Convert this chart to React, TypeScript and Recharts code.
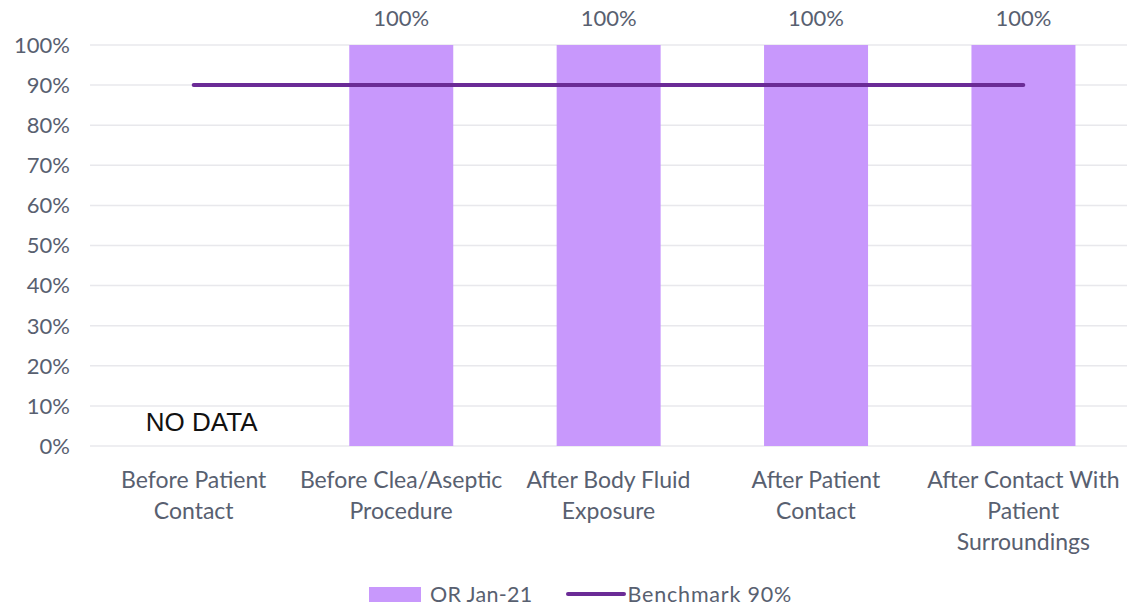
import React from 'react';
import { ComposedChart, Bar, Line, XAxis, YAxis, CartesianGrid, LabelList, ReferenceDot, Label } from 'recharts';

const categories = [
  'Before Patient\nContact',
  'Before Clea/Aseptic\nProcedure',
  'After Body Fluid\nExposure',
  'After Patient\nContact',
  'After Contact With\nPatient\nSurroundings',
];
const orJan21: (number | null)[] = [null, 100, 100, 100, 100];
const benchmark = [90, 90, 90, 90, 90];
const yTicks = [0, 10, 20, 30, 40, 50, 60, 70, 80, 90, 100];

const data = categories.map((c, i) => ({ name: c, or: orJan21[i], bench: benchmark[i] }));

const FONT = 'Lato, "Open Sans", sans-serif';
const TEXT = '#586070';
const BAR = '#c898fc';
const LINE = '#6b2b96';

const XTick = (props: any) => {
  const { x, y, payload } = props;
  const lines = String(payload.value).split('\n');
  return (
    <g transform={`translate(${x},${y})`}>
      {lines.map((l: string, i: number) => (
        <text key={i} x={0} y={34 + i * 31} textAnchor="middle" fill={TEXT} fontSize={23} fontFamily={FONT}>
          {l}
        </text>
      ))}
    </g>
  );
};

const LegendBox = () => (
  <div style={{ position: 'absolute', left: 369, top: 583, height: 22, lineHeight: '22px', display: 'flex', alignItems: 'center', fontFamily: FONT, fontSize: 21.5, color: TEXT, whiteSpace: 'nowrap' }}>
    <span style={{ display: 'inline-block', width: 52, height: 15, background: BAR, marginRight: 9 }} />
    <span style={{ letterSpacing: 0.3 }}>OR Jan-21</span>
    <span style={{ display: 'inline-block', width: 60, height: 4, borderRadius: 2, background: LINE, marginLeft: 33, marginRight: 2 }} />
    <span style={{ letterSpacing: 0.8 }}>Benchmark 90%</span>
  </div>
);

export default function App() {
  return (
    <div style={{ position: 'absolute', left: 0, top: 0, width: 1127, height: 606, background: '#fff', overflow: 'hidden' }}>
      <ComposedChart width={1127} height={606} data={data} margin={{ top: 45, right: 0, bottom: 50, left: 0 }} barCategoryGap="25%">
        <CartesianGrid horizontal vertical={false} stroke="#e8e8ec" strokeWidth={1.5} />
        <XAxis dataKey="name" axisLine={false} tickLine={false} tick={<XTick />} interval={0} height={110} />
        <YAxis
          domain={[0, 100]}
          ticks={yTicks}
          width={90}
          axisLine={false}
          tickLine={false}
          tickMargin={14}
          tickFormatter={(v: number) => `${v}%`}
          tick={{ fill: TEXT, fontSize: 22, fontFamily: FONT }}
        />
        <Bar dataKey="or" fill={BAR} isAnimationActive={false}>
          <LabelList dataKey="or" position="top" offset={19} formatter={(v: any) => (v == null ? '' : `${v}%`)} fill={TEXT} fontSize={22} fontFamily={FONT} />
        </Bar>
        <Line dataKey="bench" stroke={LINE} strokeWidth={4} dot={false} isAnimationActive={false} strokeLinecap="round" />
        <ReferenceDot x={categories[0]} y={6} r={0} fill="none" stroke="none">
          <Label value="NO DATA" position="center" dx={8} fill="#111" fontSize={26} fontFamily='"Liberation Sans", Arial, sans-serif' />
        </ReferenceDot>
      </ComposedChart>
      <LegendBox />
    </div>
  );
}
